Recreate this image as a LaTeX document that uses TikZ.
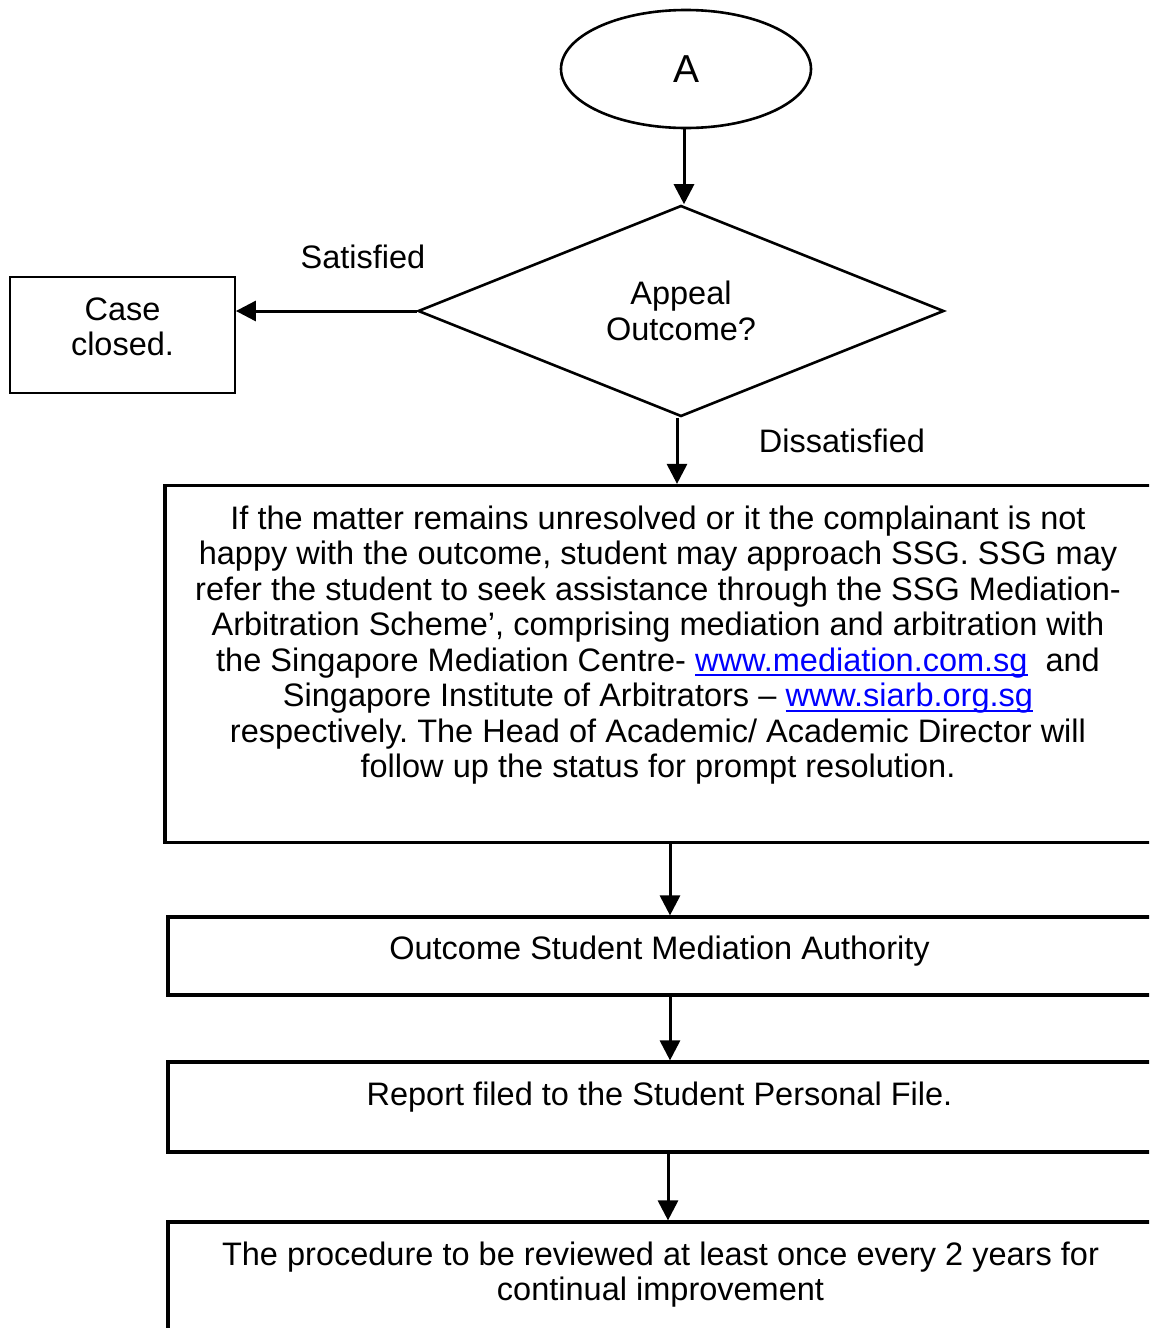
\documentclass[tikz,border=0pt]{standalone}
\usepackage{fontspec}
\setmainfont{Liberation Sans}
\usetikzlibrary{shapes.geometric,arrows.meta}
\definecolor{linkblue}{RGB}{0,0,255}
\frenchspacing
% underlined hyperlink text
\newsavebox\lnkbox
\newcommand\lnk[1]{\sbox\lnkbox{#1}\textcolor{linkblue}{\rlap{\rule[-5pt]{\wd\lnkbox}{2pt}}#1}}
\begin{document}
\begin{tikzpicture}[x=1pt,y=-1pt,
  font=\fontsize{32.5}{35.5}\selectfont,
  oval/.style={ellipse, draw, line width=2.6pt, minimum width=250, minimum height=118, inner sep=0pt},
  decision/.style={diamond, draw, line width=2.6pt, minimum width=526, minimum height=211, inner sep=0pt, align=center},
  thinbox/.style={rectangle, draw, line width=1.8pt, inner sep=0pt},
  flowbox/.style={rectangle, draw, line width=3.2pt, inner sep=0pt},
  txt/.style={inner sep=0pt, align=center,
    execute at begin node={\spaceskip=9.1pt plus 0pt minus 0pt\relax}},
  arr/.style={-{Triangle[length=20pt,width=20pt]}, line width=3pt},
]
\useasboundingbox (0,0) rectangle (1149,1328);
\clip (0,0) rectangle (1149,1328);

% connector columns
\coordinate (c0) at (684,0);
\coordinate (c1) at (677,0);
\coordinate (c2) at (670,0);
\coordinate (c3) at (668,0);

% start and decision
\node[oval] (start) at (686,69) {\fontsize{39}{42}\selectfont A};
\node[decision] (dec) at (681,311) {Appeal\\Outcome?};

% satisfied branch
\node[thinbox, minimum width=225, minimum height=116] (closed) at (122.5,335) {};
\node[txt, text width=215, anchor=base] (closedtxt) at (122.5,320) {Case\\closed.};
\node[txt, anchor=base] (sat) at (363,268) {Satisfied};
\node[txt, anchor=base] (dis) at (842,452) {Dissatisfied};

% process boxes
\node[flowbox, minimum width=990, minimum height=357] (b1) at (660,664) {};
\node[txt, text width=985, anchor=base] (b1txt) at (658,529) {If the matter remains unresolved or it the complainant is not\\
happy with the outcome, student may approach SSG. SSG may\\
refer the student to seek assistance through the SSG Mediation-\\
Arbitration Scheme’, comprising mediation and arbitration with\\
the Singapore Mediation Centre- \lnk{www.mediation.com.sg}\hspace{18pt}and\\
Singapore Institute of Arbitrators – \lnk{www.siarb.org.sg}\\
respectively. The Head of Academic/ Academic Director will\\
follow up the status for prompt resolution.};

\node[flowbox, minimum width=987, minimum height=78] (b2) at (661.5,956) {};
\node[txt, text width=980, anchor=base] (b2txt) at (659.5,959) {Outcome Student Mediation Authority};

\node[flowbox, minimum width=987, minimum height=90] (b3) at (661.5,1107) {};
\node[txt, text width=980, anchor=base] (b3txt) at (659.5,1105) {Report filed to the Student Personal File.};

\node[flowbox, minimum width=987, minimum height=178] (b4) at (661.5,1311) {};
\node[txt, text width=980, anchor=base] (b4txt) at (660.5,1265) {The procedure to be reviewed at least once every 2 years for\\
continual improvement};

% connectors
\draw[arr] (start.south -| c0) -- (dec.north -| c0);
\draw[arr] (dec.west) -- (dec.west -| closed.east);
\draw[arr] (dec.south -| c1) -- (b1.north -| c1);
\draw[arr] (b1.south -| c2) -- (b2.north -| c2);
\draw[arr] (b2.south -| c2) -- (b3.north -| c2);
\draw[arr] (b3.south -| c3) -- (b4.north -| c3);
\end{tikzpicture}
\end{document}
